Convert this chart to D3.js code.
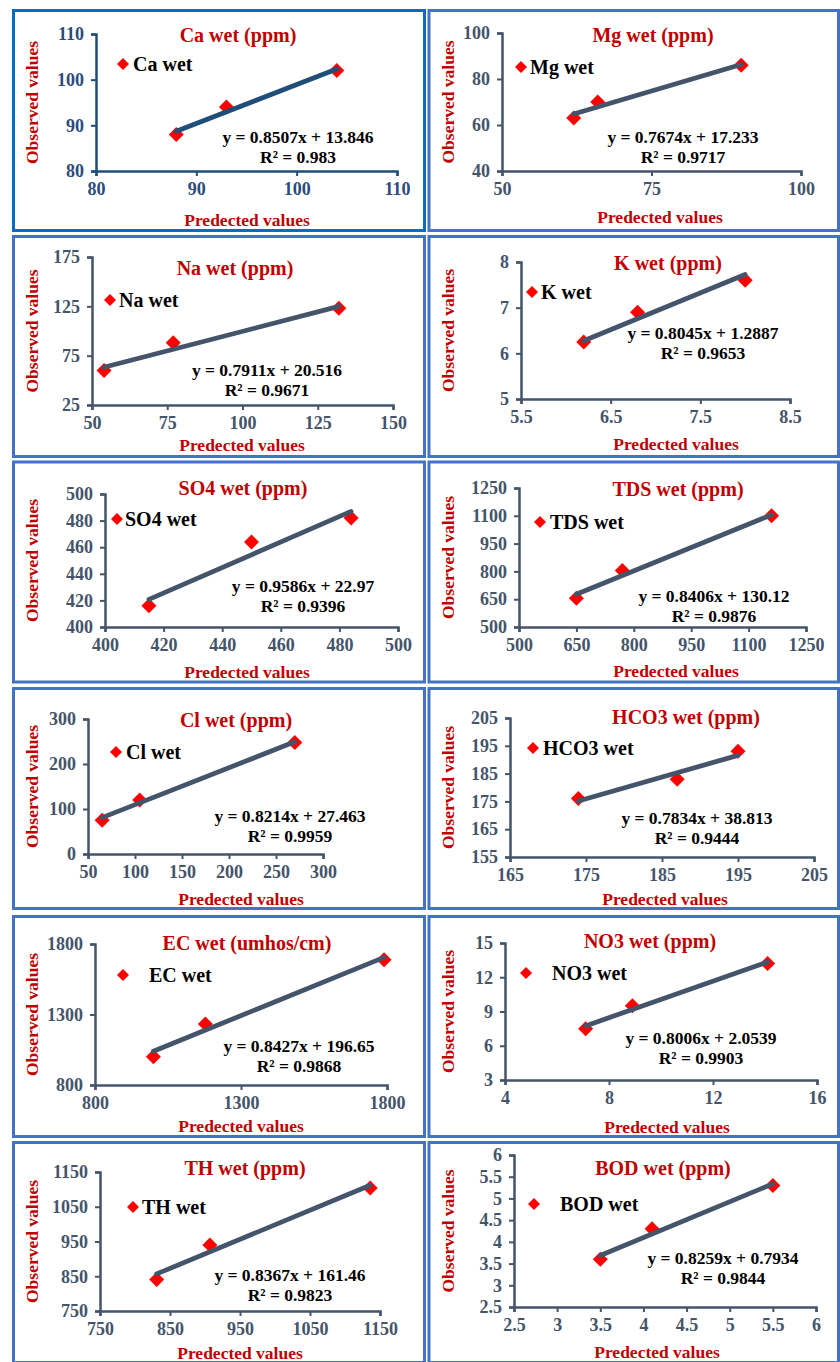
<!DOCTYPE html>
<html>
<head>
<meta charset="utf-8">
<script src="https://cdn.jsdelivr.net/npm/d3@7"></script>
<style>
  html, body { margin: 0; padding: 0; background: #ffffff; }
  svg { display: block; }
  text { font-family: "Liberation Serif", "Times New Roman", serif; font-weight: bold; }
</style>
</head>
<body>
<svg id="chart" width="840" height="1362"></svg>
<script>
// ---------------- DATA ----------------
const seriesNames = ["Ca wet", "Mg wet", "Na wet", "K wet", "SO4 wet", "TDS wet",
                     "Cl wet", "HCO3 wet", "EC wet", "NO3 wet", "TH wet", "BOD wet"];
const units = ["(ppm)", "(ppm)", "(ppm)", "(ppm)", "(ppm)", "(ppm)",
               "(ppm)", "(ppm)", "(umhos/cm)", "(ppm)", "(ppm)", "(ppm)"];
const predicted = [
  [88, 93, 104], [62, 66, 90], [54, 77, 132], [6.2, 6.8, 8.0],
  [415, 450, 484], [650, 770, 1160], [65, 105, 270], [174, 187, 195],
  [1000, 1178, 1790], [7.1, 8.9, 14.1], [831, 907, 1136], [3.5, 4.1, 5.5]
];
const observed = [
  [88, 94, 102], [63, 70, 86], [60, 88, 123], [6.25, 6.9, 7.6],
  [416, 464, 482], [655, 805, 1100], [75, 120, 248], [176, 183, 193],
  [1000, 1232, 1688], [7.5, 9.5, 13.2], [841, 940, 1104], [3.6, 4.3, 5.3]
];
const slopes = [0.8507, 0.7674, 0.7911, 0.8045, 0.9586, 0.8406, 0.8214, 0.7834, 0.8427, 0.8006, 0.8367, 0.8259];
const intercepts = [13.846, 17.233, 20.516, 1.2887, 22.97, 130.12, 27.463, 38.813, 196.65, 2.0539, 161.46, 0.7934];
const equations = ["y = 0.8507x + 13.846", "y = 0.7674x + 17.233", "y = 0.7911x + 20.516", "y = 0.8045x + 1.2887",
                   "y = 0.9586x + 22.97", "y = 0.8406x + 130.12", "y = 0.8214x + 27.463", "y = 0.7834x + 38.813",
                   "y = 0.8427x + 196.65", "y = 0.8006x + 2.0539", "y = 0.8367x + 161.46", "y = 0.8259x + 0.7934"];
const r2Labels = ["R² = 0.983", "R² = 0.9717", "R² = 0.9671", "R² = 0.9653", "R² = 0.9396", "R² = 0.9876",
                  "R² = 0.9959", "R² = 0.9444", "R² = 0.9868", "R² = 0.9903", "R² = 0.9823", "R² = 0.9844"];
const xTicks = [
  [80, 90, 100, 110], [50, 75, 100], [50, 75, 100, 125, 150], [5.5, 6.5, 7.5, 8.5],
  [400, 420, 440, 460, 480, 500], [500, 650, 800, 950, 1100, 1250], [50, 100, 150, 200, 250, 300],
  [165, 175, 185, 195, 205], [800, 1300, 1800], [4, 8, 12, 16], [750, 850, 950, 1050, 1150],
  [2.5, 3, 3.5, 4, 4.5, 5, 5.5, 6]
];
const yTicks = [
  [80, 90, 100, 110], [40, 60, 80, 100], [25, 75, 125, 175], [5, 6, 7, 8],
  [400, 420, 440, 460, 480, 500], [500, 650, 800, 950, 1100, 1250], [0, 100, 200, 300],
  [155, 165, 175, 185, 195, 205], [800, 1300, 1800], [3, 6, 9, 12, 15], [750, 850, 950, 1050, 1150],
  [2.5, 3, 3.5, 4, 4.5, 5, 5.5, 6]
];
const xAxisTitle = "Predected values";
const yAxisTitle = "Observed values";

// ---------------- LAYOUT (positions / styles only) ----------------
const panelBoxes = [
  [13.5, 10.5], [429, 10.5], [13.5, 236.5], [429, 236.5], [13.5, 462], [429, 462],
  [13.5, 688.5], [429, 688.5], [13.5, 916.5], [429, 916.5], [13.5, 1142.5], [429, 1142.5]
];
const panelW = [411, 409.5];
const panelH = 220;
// plot area: [left, right, top, bottom]
const plotAreas = [
  [96, 397, 34, 171], [502, 801, 33, 171], [92, 393, 257, 405], [521, 790, 262, 399],
  [105, 398, 494, 627], [519, 806, 488, 627], [88, 323, 719, 854], [510, 814, 718, 857],
  [95, 387, 944, 1085], [505, 817, 943, 1080], [100, 380, 1172, 1311], [514, 816, 1155, 1307]
];
const titlePos = [[238, 35], [653, 35], [235, 268], [668, 263], [243, 488], [678, 489],
                  [236, 720], [686, 717], [247, 943], [650, 941], [245, 1168], [663, 1168]];
const legendPos = [[123, 64, 133], [521, 67, 530], [110, 300, 119], [532, 292, 541], [117, 519, 125], [540, 522, 550],
                   [116, 752, 126], [533, 748, 543], [123, 975, 149], [526, 973, 552], [133, 1207, 142], [534, 1204, 560]];
const eqPos = [[298, 137], [683, 137], [267, 370], [703, 333], [303, 586], [714, 596],
               [290, 816], [697, 818], [299, 1046], [701, 1038], [290, 1275], [723, 1258]];
const xLabelPos = [[247, 220], [660, 217], [242, 445], [676, 444], [247, 672], [676, 671],
                   [241, 899], [665, 899], [241, 1126], [667, 1127], [240, 1353], [657, 1352]];

const svg = d3.select("#chart");

function diamond(r) { return `M0,${-r}L${r},0L0,${r}L${-r},0Z`; }

seriesNames.forEach((name, i) => {
  const first = i === 0;
  const axisColor = first ? "#1f4e79" : "#44546a";
  const tickTextColor = first ? "#2a4b7c" : "#44546a";
  const borderColor = first ? "#0a6cc0" : "#4472c4";
  const col = i % 2;
  const [bx, by] = panelBoxes[i];
  const g = svg.append("g");

  // panel border
  g.append("rect")
    .attr("x", bx).attr("y", by)
    .attr("width", panelW[col]).attr("height", panelH)
    .attr("fill", "#ffffff").attr("stroke", borderColor).attr("stroke-width", 3);

  const [pl, pr, pt, pb] = plotAreas[i];
  const xt = xTicks[i], yt = yTicks[i];
  const x = d3.scaleLinear().domain([xt[0], xt[xt.length - 1]]).range([pl, pr]);
  const y = d3.scaleLinear().domain([yt[0], yt[yt.length - 1]]).range([pb, pt]);

  // axes
  const xAxis = g.append("g").attr("transform", `translate(0,${pb})`)
    .call(d3.axisBottom(x).tickValues(xt).tickSize(5).tickPadding(6).tickFormat(d3.format("")));
  const yAxis = g.append("g").attr("transform", `translate(${pl},0)`)
    .call(d3.axisLeft(y).tickValues(yt).tickSize(5).tickPadding(7).tickFormat(d3.format("")));
  [xAxis, yAxis].forEach(a => {
    a.select(".domain").attr("stroke", axisColor).attr("stroke-width", 2.5);
    a.selectAll(".tick line").attr("stroke", axisColor).attr("stroke-width", 2);
    a.selectAll(".tick text").attr("fill", tickTextColor)
      .style("font-family", '"Liberation Serif", "Times New Roman", serif')
      .style("font-weight", "bold").style("font-size", "18px");
  });

  // points
  const pts = predicted[i].map((p, k) => [p, observed[i][k]]);
  g.selectAll("path.pt").data(pts).enter().append("path")
    .attr("class", "pt")
    .attr("transform", d => `translate(${x(d[0])},${y(d[1])})`)
    .attr("d", diamond(7.5))
    .attr("fill", "#ff0000");

  // trendline from the fitted equation, between min and max predicted
  const x0 = d3.min(predicted[i]), x1 = d3.max(predicted[i]);
  g.append("line")
    .attr("x1", x(x0)).attr("y1", y(slopes[i] * x0 + intercepts[i]))
    .attr("x2", x(x1)).attr("y2", y(slopes[i] * x1 + intercepts[i]))
    .attr("stroke", axisColor).attr("stroke-width", 4.8).attr("stroke-linecap", "round");

  // title
  g.append("text").attr("x", titlePos[i][0]).attr("y", titlePos[i][1])
    .attr("text-anchor", "middle").attr("dominant-baseline", "central")
    .attr("fill", "#c00000").style("font-size", "20px")
    .text(`${name} ${units[i]}`);

  // legend
  const [lx, ly, ltx] = legendPos[i];
  g.append("path").attr("transform", `translate(${lx},${ly})`).attr("d", diamond(6)).attr("fill", "#ff0000");
  g.append("text").attr("x", ltx).attr("y", ly).attr("dominant-baseline", "central")
    .attr("fill", "#000000").style("font-size", "20px").text(name);

  // equation and R²
  g.append("text").attr("x", eqPos[i][0]).attr("y", eqPos[i][1])
    .attr("text-anchor", "middle").attr("dominant-baseline", "central")
    .attr("fill", "#000000").style("font-size", "17.5px").text(equations[i]);
  g.append("text").attr("x", eqPos[i][0]).attr("y", eqPos[i][1] + 20)
    .attr("text-anchor", "middle").attr("dominant-baseline", "central")
    .attr("fill", "#000000").style("font-size", "17.5px").text(r2Labels[i]);

  // axis titles
  g.append("text").attr("x", xLabelPos[i][0]).attr("y", xLabelPos[i][1])
    .attr("text-anchor", "middle").attr("dominant-baseline", "central")
    .attr("fill", "#c00000").style("font-size", "17.5px").text(xAxisTitle);
  const ylx = col === 0 ? 32 : 448;
  const yly = (pt + pb) / 2;
  g.append("text").attr("transform", `translate(${ylx},${yly}) rotate(-90)`)
    .attr("text-anchor", "middle").attr("dominant-baseline", "central")
    .attr("fill", "#c00000").style("font-size", "17.5px").text(yAxisTitle);
});
</script>
</body>
</html>
